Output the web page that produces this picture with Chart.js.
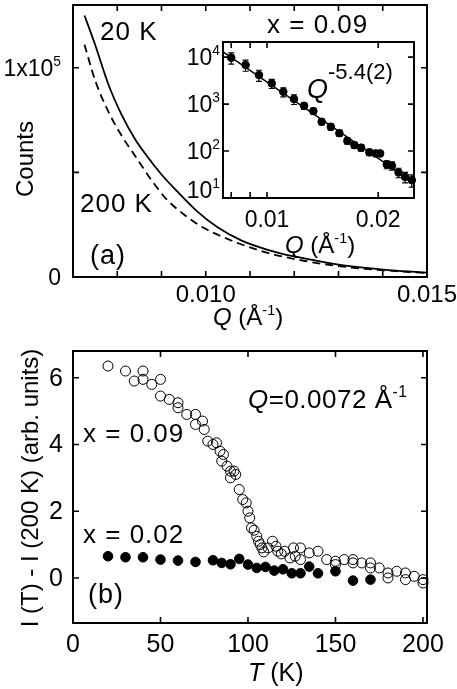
<!DOCTYPE html>
<html>
<head>
<meta charset="utf-8">
<script src="https://cdn.jsdelivr.net/npm/chart.js@4/dist/chart.umd.min.js"></script>
<style>
  body { margin: 0; background: #fff; width: 457px; height: 689px; position: relative; overflow: hidden; }
  .box { position: absolute; }
</style>
</head>
<body>
<div class="box" style="left:0;top:0;width:457px;height:335px"><canvas id="chartA"></canvas></div>
<div class="box" style="left:170px;top:0;width:280px;height:265px"><canvas id="chartInset"></canvas></div>
<div class="box" style="left:0;top:335px;width:457px;height:354px"><canvas id="chartB"></canvas></div>
<script>
'use strict';

// (a) Q scans at 20 K and 200 K
var q20K = [0.00726, 0.00750, 0.00780, 0.00810, 0.00840, 0.00870, 0.00900, 0.00935, 0.00980,
    0.01025, 0.01080, 0.01140, 0.01200, 0.01270, 0.01340, 0.01420, 0.01500];
var counts20K = [125000, 111000, 92000, 77500, 66000, 57000, 49000, 41000, 31500,
    24000, 17500, 13000, 9800, 7000, 4800, 3200, 2100];
var q200K = [0.00726, 0.00750, 0.00780, 0.00810, 0.00840, 0.00875, 0.00910, 0.00950, 0.00995,
    0.01040, 0.01075, 0.01140, 0.01210, 0.01290, 0.01360, 0.01430, 0.01500];
var counts200K = [111000, 94000, 79000, 67500, 58000, 47000, 37500, 30000, 23500,
    19000, 16000, 11500, 8200, 5500, 3900, 2800, 1900];
var qTicks = [0.008, 0.009, 0.010, 0.011, 0.012, 0.013, 0.014];
var qLabels = [0.010, 0.015];
var countTicks = [50000, 100000];
var countLabels = [0, 100000];

// inset: x = 0.09, log-log
var insetQ = [0.0080, 0.00875, 0.00951, 0.0103, 0.01107, 0.01183, 0.0126, 0.01335, 0.01406, 0.01488, 0.0157,
    0.0165, 0.01724, 0.01798, 0.01893, 0.0197, 0.02024, 0.0211, 0.02178, 0.0227, 0.02366, 0.02466];
var insetCounts = [9700, 6800, 4150, 2750, 1830, 1280, 920, 710, 420, 330, 240,
    165, 134, 118, 94, 89, 89, 52, 49, 35, 28, 24];
var insetErr = [2600, 1800, 1100, 600, 400, 300, 150, 100, 60, 50, 35,
    25, 20, 18, 14, 13, 13, 10, 10, 8, 7, 7];
var fitQ = [0.0076, 0.025];
var fitCounts = [13000, 21];
var insetQTicks = [0.008, 0.009, 0.01, 0.02];
var insetQLabels = [0.01, 0.02];
var insetCountTicks = [10, 100, 1000, 10000];

// (b) I(T) - I(200 K) at Q = 0.0072
var tOpen = [20, 30, 35, 40, 40, 45, 50, 50, 55, 60, 60, 65, 70, 70, 74, 75, 77, 80, 82, 84, 85, 86, 88, 90, 90,
    92, 93, 95, 97, 99, 100, 101, 102, 103.5, 105, 106, 107, 108, 109, 111.5, 114, 116, 117, 119, 121, 124, 126,
    127, 130, 130, 135, 140, 145, 150, 150, 155, 160, 160, 165, 170, 170, 175, 180, 180, 185, 190, 190, 195, 200, 200];
var iOpen = [6.35, 6.2, 5.9, 6.2, 5.95, 5.8, 5.95, 5.45, 5.35, 5.25, 5.1, 4.9, 4.9, 4.6, 4.7, 4.45, 4.1, 4.0, 4.05, 3.8, 3.5, 3.7, 3.35, 3.0, 3.2,
    3.2, 3.1, 2.65, 2.35, 2.25, 2.0, 1.8, 1.5, 1.43, 1.25, 1.1, 1.0, 0.9, 0.78, 0.9, 1.1, 0.95, 0.8, 0.72, 0.8, 0.6, 0.9,
    0.65, 0.9, 0.55, 0.75, 0.8, 0.55, 0.5, 0.4, 0.55, 0.55, 0.45, 0.45, 0.45, 0.3, 0.3, 0.15, 0.0, 0.2, 0.15, -0.05, 0.05, -0.05, -0.15];
var tFilled = [20, 30, 40, 50, 60, 70, 80, 85, 90, 95, 100, 105, 110, 115, 120, 125, 130, 135, 140, 150, 160, 170];
var iFilled = [0.65, 0.62, 0.62, 0.55, 0.52, 0.48, 0.53, 0.45, 0.41, 0.57, 0.4, 0.3, 0.33, 0.22, 0.26, 0.14, 0.14, 0.34, 0.14, 0.2, -0.08, -0.05];
var tTicks = [0, 50, 100, 150, 200];
var iTicks = [0, 2, 4, 6];

var FONT = "'Liberation Sans', Arial, sans-serif";
var TICK = 6;

function toXY(xs, ys) {
    return xs.map(function (x, i) { return {x: x, y: ys[i]}; });
}

// text made of pieces: {t, i: italic, sup: superscript, s: size, dy: shift}
function txt(ctx, parts, x, y, size, align, spacing) {
    if (typeof parts === 'string') parts = [{t: parts}];
    var fonts = [], widths = [], w = 0;
    ctx.letterSpacing = (spacing || 0) + 'px';
    parts.forEach(function (p, k) {
        var s = p.s || (p.sup ? size * 0.6 : size);
        fonts[k] = (p.i ? 'italic ' : '') + s + 'px ' + FONT;
        ctx.font = fonts[k];
        widths[k] = ctx.measureText(p.t).width;
        w += widths[k];
    });
    if (align === 'right') x -= w;
    else if (align === 'center') x -= w / 2;
    parts.forEach(function (p, k) {
        var dy = p.dy !== undefined ? p.dy : (p.sup ? -size * 0.42 : 0);
        ctx.font = fonts[k];
        ctx.fillText(p.t, x, y + dy);
        x += widths[k];
    });
    ctx.letterSpacing = '0px';
}

function vtxt(ctx, str, x, y, size) {
    ctx.save();
    ctx.translate(x, y);
    ctx.rotate(-Math.PI / 2);
    ctx.textAlign = 'center';
    ctx.font = size + 'px ' + FONT;
    ctx.fillText(str, 0, 0);
    ctx.restore();
}

function drawBox(chart, xTicks, yTicks) {
    var ctx = chart.ctx, a = chart.chartArea, xs = chart.scales.x, ys = chart.scales.y;
    ctx.save();
    ctx.strokeStyle = '#000';
    ctx.lineWidth = 1.6;
    ctx.beginPath();
    xTicks.forEach(function (v) {
        var p = xs.getPixelForValue(v);
        ctx.moveTo(p, a.top); ctx.lineTo(p, a.top + TICK);
        ctx.moveTo(p, a.bottom); ctx.lineTo(p, a.bottom - TICK);
    });
    yTicks.forEach(function (v) {
        var p = ys.getPixelForValue(v);
        ctx.moveTo(a.left, p); ctx.lineTo(a.left + TICK, p);
        ctx.moveTo(a.right, p); ctx.lineTo(a.right - TICK, p);
    });
    ctx.stroke();
    ctx.lineWidth = 2;
    ctx.strokeRect(a.left, a.top, a.right - a.left, a.bottom - a.top);
    ctx.restore();
}

function axis(type, min, max, size) {
    return {
        type: type, min: min, max: max,
        ticks: {display: false},
        grid: {display: false},
        border: {display: false},
        afterFit: function (s) {
            if (s.isHorizontal()) s.height = size;
            else s.width = size;
        }
    };
}

function baseOptions(padding, scales) {
    return {
        responsive: true,
        maintainAspectRatio: false,
        animation: false,
        devicePixelRatio: 1,
        events: [],
        layout: {padding: padding},
        scales: scales,
        plugins: {legend: {display: false}, tooltip: {enabled: false}}
    };
}

var qSup = [{t: 'Q', i: true}, {t: ' (Å'}, {t: '-1', sup: true}, {t: ')'}];

new Chart(document.getElementById('chartA'), {
    type: 'scatter',
    data: {
        datasets: [{
            data: toXY(q20K, counts20K),
            showLine: true,
            borderColor: '#000',
            borderWidth: 1.8,
            pointRadius: 0,
            cubicInterpolationMode: 'monotone'
        }, {
            data: toXY(q200K, counts200K),
            showLine: true,
            borderColor: '#000',
            borderWidth: 1.8,
            borderDash: [8, 5],
            pointRadius: 0,
            cubicInterpolationMode: 'monotone'
        }]
    },
    options: baseOptions({left: 0, top: 5, right: 30, bottom: 0}, {
        x: axis('linear', 0.007, 0.015, 58),
        y: axis('linear', 0, 130000, 73)
    }),
    plugins: [{
        id: 'panelA',
        afterDatasetsDraw: function (chart) {
            var ctx = chart.ctx, xs = chart.scales.x, ys = chart.scales.y, a = chart.chartArea;
            drawBox(chart, qTicks, countTicks);
            ctx.save();
            ctx.fillStyle = '#000';
            qLabels.forEach(function (v) {
                txt(ctx, v.toFixed(3), xs.getPixelForValue(v), a.bottom + 25, 24, 'center');
            });
            countLabels.forEach(function (v) {
                var lab = v === 0 ? '0' : [{t: '1x10'}, {t: String(Math.round(Math.log10(v))), sup: true}];
                txt(ctx, lab, a.left - 12, ys.getPixelForValue(v) + 8, 23, 'right');
            });
            txt(ctx, qSup, 213, 325, 24);
            vtxt(ctx, 'Counts', 33, 159, 24);
            txt(ctx, '20 K', 100, 40, 26, 'left', 1);
            txt(ctx, '200 K', 80, 212, 26, 'left', 1);
            txt(ctx, '(a)', 90, 264, 27, 'left', 1);
            ctx.restore();
        }
    }]
});

new Chart(document.getElementById('chartInset'), {
    type: 'scatter',
    data: {
        datasets: [{
            data: toXY(insetQ, insetCounts),
            pointRadius: 3.8,
            pointBackgroundColor: '#000',
            pointBorderColor: '#000',
            pointBorderWidth: 1,
            clip: false
        }, {
            data: toXY(fitQ, fitCounts),
            showLine: true,
            borderColor: '#000',
            borderWidth: 1.5,
            pointRadius: 0
        }]
    },
    options: baseOptions({left: 0, top: 42, right: 36, bottom: 0}, {
        x: axis('logarithmic', 0.0076, 0.025, 67),
        y: axis('logarithmic', 10, 21000, 53)
    }),
    plugins: [{
        id: 'inset',
        beforeDatasetsDraw: function (chart) {
            var ctx = chart.ctx, xs = chart.scales.x, ys = chart.scales.y, a = chart.chartArea;
            ctx.save();
            ctx.fillStyle = '#fff';
            ctx.fillRect(a.left, a.top, a.right - a.left, a.bottom - a.top);
            // error bars under the markers
            ctx.strokeStyle = '#000';
            ctx.lineWidth = 1.2;
            ctx.beginPath();
            insetQ.forEach(function (q, k) {
                var px = xs.getPixelForValue(q);
                var lo = ys.getPixelForValue(insetCounts[k] - insetErr[k]);
                var hi = ys.getPixelForValue(insetCounts[k] + insetErr[k]);
                ctx.moveTo(px, lo); ctx.lineTo(px, hi);
                ctx.moveTo(px - 3, lo); ctx.lineTo(px + 3, lo);
                ctx.moveTo(px - 3, hi); ctx.lineTo(px + 3, hi);
            });
            ctx.stroke();
            ctx.restore();
        },
        afterDatasetsDraw: function (chart) {
            var ctx = chart.ctx, xs = chart.scales.x, ys = chart.scales.y, a = chart.chartArea;
            drawBox(chart, insetQTicks, insetCountTicks);
            ctx.save();
            ctx.fillStyle = '#000';
            insetQLabels.forEach(function (v) {
                txt(ctx, String(v), xs.getPixelForValue(v), a.bottom + 29, 23, 'center');
            });
            insetCountTicks.forEach(function (v) {
                var y = Math.min(ys.getPixelForValue(v) + 8, a.bottom);
                txt(ctx, [{t: '10'}, {t: String(Math.round(Math.log10(v))), sup: true}], a.left - 3, y, 23, 'right');
            });
            txt(ctx, 'x = 0.09', 97, 33, 26, 'left', 1);
            txt(ctx, [{t: 'Q', i: true}, {t: '-5.4(2)', s: 22, dy: -19}], 137, 98, 27);
            txt(ctx, qSup, 115, 253, 24);
            ctx.restore();
        }
    }]
});

new Chart(document.getElementById('chartB'), {
    type: 'scatter',
    data: {
        datasets: [{
            data: toXY(tOpen, iOpen),
            pointRadius: 5,
            pointBackgroundColor: 'rgba(0,0,0,0)',
            pointBorderColor: '#000',
            pointBorderWidth: 1,
            clip: false
        }, {
            data: toXY(tFilled, iFilled),
            pointRadius: 4.8,
            pointBackgroundColor: '#000',
            pointBorderColor: '#000',
            pointBorderWidth: 1,
            clip: false
        }]
    },
    options: baseOptions({left: 0, top: 16, right: 30, bottom: 0}, {
        x: axis('linear', 0, 202.3, 66),
        y: axis('linear', -1.35, 6.8, 73)
    }),
    plugins: [{
        id: 'panelB',
        afterDatasetsDraw: function (chart) {
            var ctx = chart.ctx, xs = chart.scales.x, ys = chart.scales.y, a = chart.chartArea;
            drawBox(chart, tTicks, iTicks);
            ctx.save();
            ctx.fillStyle = '#000';
            tTicks.forEach(function (v) {
                txt(ctx, String(v), xs.getPixelForValue(v), a.bottom + 29, 25, 'center');
            });
            iTicks.forEach(function (v) {
                txt(ctx, String(v), a.left - 10, ys.getPixelForValue(v) + 8, 25, 'right');
            });
            txt(ctx, [{t: 'T', i: true}, {t: ' (K)'}], 248, 346, 25);
            vtxt(ctx, 'I (T) - I (200 K) (arb. units)', 38, 153, 24);
            txt(ctx, [{t: 'Q', i: true}, {t: '=0.0072 Å'}, {t: '-1', sup: true}], 248, 73, 26, 'left', 0.5);
            txt(ctx, 'x = 0.09', 83, 107, 26, 'left', 1);
            txt(ctx, 'x = 0.02', 83, 208, 26, 'left', 1);
            txt(ctx, '(b)', 88, 268, 27, 'left', 1);
            ctx.restore();
        }
    }]
});
</script>
</body>
</html>
